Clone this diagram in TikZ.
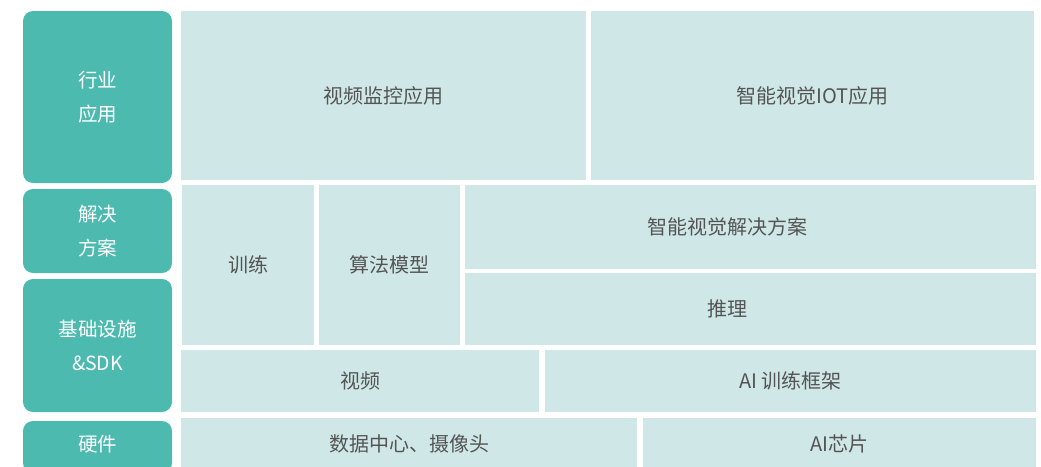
\documentclass[tikz,border=0pt]{standalone}
\usepackage{fontspec}
\setmainfont{Noto Sans CJK SC}
\definecolor{tealbox}{HTML}{4DBAB0}
\definecolor{lightbox}{HTML}{CFE8E7}
\definecolor{txtgray}{HTML}{545454}
\begin{document}
\begin{tikzpicture}[x=1pt,y=-1pt,
  side/.style={fill=tealbox, draw=none, rounded corners=10pt, inner sep=0pt,
    text=white, align=center, font=\fontsize{19.5}{34}\selectfont},
  cell/.style={fill=lightbox, draw=none, inner sep=0pt,
    text=txtgray, align=center, font=\fontsize{20}{24}\selectfont},
  lbl/.style={text=txtgray, inner sep=0pt, font=\fontsize{20}{24}\selectfont}]
\useasboundingbox (0,0) rectangle (1041,466);
\clip (0,0) rectangle (1041,466);
% left column
\node[side, minimum width=149pt, minimum height=172pt] (l1) at (97.5,97) {行业\\应用};
\node[side, minimum width=149pt, minimum height=84pt] (l2) at (97.5,231) {解决\\方案};
\node[side, minimum width=149pt, minimum height=133pt] (l3) at (97.5,345.5) {基础设施\\\&SDK};
\node[side, minimum width=149pt, minimum height=52pt] (l4) at (97.5,447) {};
\node[text=white, inner sep=0pt, font=\fontsize{19.5}{24}\selectfont] (l4t) at (97.5,444) {硬件};
% row 1
\node[cell, minimum width=405pt, minimum height=169pt] (a) at (383.5,95.5) {视频监控应用};
\node[cell, minimum width=443pt, minimum height=169pt] (b) at (812.5,95.5) {智能视觉IOT应用};
% rows 2-3
\node[cell, minimum width=132pt, minimum height=160pt] (c) at (248,265) {训练};
\node[cell, minimum width=141pt, minimum height=160pt] (d) at (389.5,265) {算法模型};
\node[cell, minimum width=571pt, minimum height=84pt] (e) at (750.5,227) {};
\node[lbl] (et) at ([xshift=-23.5pt]e.center) {智能视觉解决方案};
\node[cell, minimum width=571pt, minimum height=72pt] (f) at (750.5,309) {};
\node[lbl] (ft) at ([xshift=-23pt]f.center) {推理};
% row 4
\node[cell, minimum width=358pt, minimum height=62pt] (g) at (360,381) {视频};
\node[cell, minimum width=491pt, minimum height=62pt] (h) at (790.5,381) {AI 训练框架};
% row 5
\node[cell, minimum width=456pt, minimum height=52pt] (i) at (409,444) {数据中心、摄像头};
\node[cell, minimum width=393pt, minimum height=52pt] (j) at (839.5,444) {AI芯片};
\end{tikzpicture}
\end{document}
